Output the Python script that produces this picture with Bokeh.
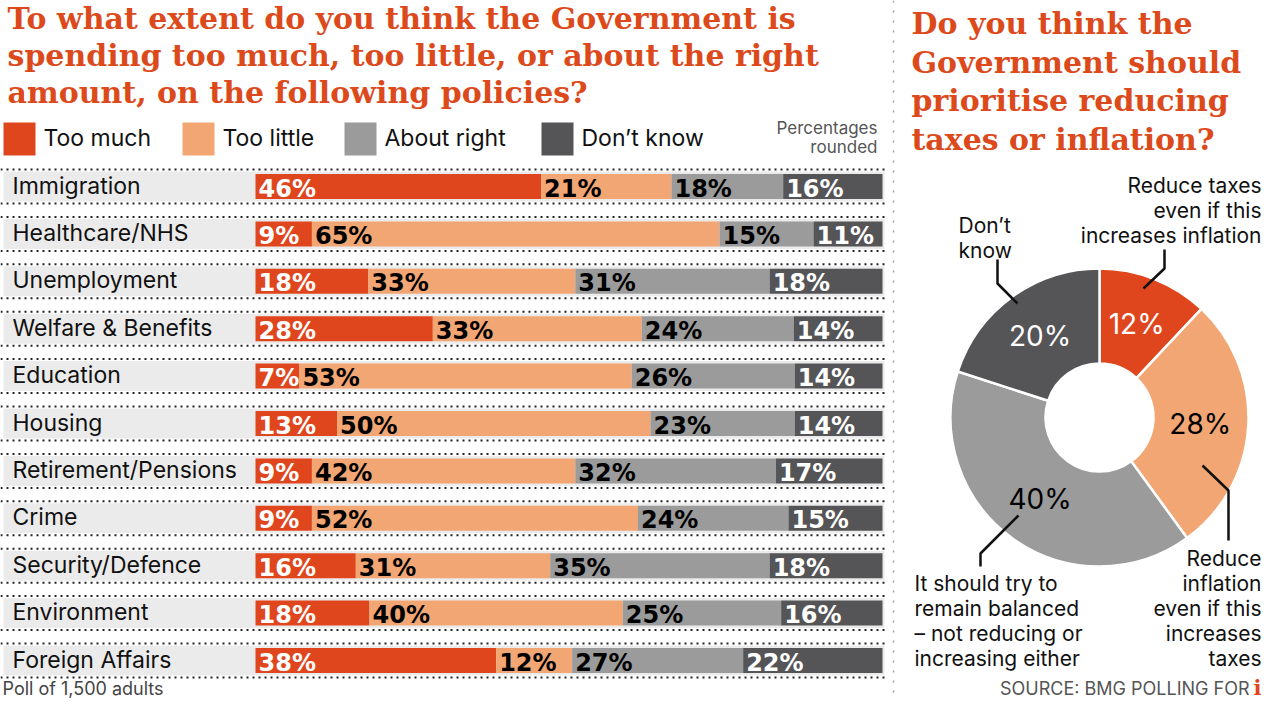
import math
from bokeh.plotting import figure
from bokeh.models import Range1d, ColumnDataSource
from bokeh.core.properties import value
from bokeh.embed import file_html
from bokeh.resources import INLINE

# ---------------- data ----------------
categories = ["Immigration", "Healthcare/NHS", "Unemployment", "Welfare & Benefits",
              "Education", "Housing", "Retirement/Pensions", "Crime",
              "Security/Defence", "Environment", "Foreign Affairs"]
too_much = [46, 9, 18, 28, 7, 13, 9, 9, 16, 18, 38]
too_little = [21, 65, 33, 33, 53, 50, 42, 52, 31, 40, 12]
about_right = [18, 15, 31, 24, 26, 23, 32, 24, 35, 25, 27]
dont_know = [16, 11, 18, 14, 14, 14, 17, 15, 18, 16, 22]
series_names = ["Too much", "Too little", "About right", "Don\u2019t know"]

pie_labels = ["Reduce taxes\neven if this\nincreases inflation",
              "Reduce\ninflation\neven if this\nincreases\ntaxes",
              "It should try to\nremain balanced\n\u2013 not reducing or\nincreasing either",
              "Don\u2019t\nknow"]
pie_values = [12, 28, 40, 20]

title_left = ["To what extent do you think the Government is",
              "spending too much, too little, or about the right",
              "amount, on the following policies?"]
title_right = ["Do you think the", "Government should", "prioritise reducing", "taxes or inflation?"]

# ---------------- styles ----------------
RED = "#e0461e"
LORANGE = "#f2a674"
GRAY = "#9b9b9b"
DARK = "#555456"
TITLE = "#dc4a1c"
series_colors = [RED, LORANGE, GRAY, DARK]
label_colors = ["white", "black", "black", "white"]
pie_colors = [RED, LORANGE, GRAY, DARK]
pie_text_colors = ["white", "black", "black", "white"]

SANS = "Inter"
SERIF = "DejaVu Serif"

W, H = 1264, 701
BAR_X0, BAR_X1 = 255, 882
ROW_Y0, ROW_STEP = 186, 47.4

p = figure(width=W, height=H, x_range=Range1d(0, W), y_range=Range1d(H, 0),
           output_backend="svg", toolbar_location=None, min_border=0)
p.axis.visible = False
p.grid.visible = False
p.outline_line_color = None
p.background_fill_color = "white"
p.border_fill_color = "white"

# percent scale for bars
span = BAR_X1 - BAR_X0
p.extra_x_ranges = {"pct": Range1d(-BAR_X0 / span * 100, (W - BAR_X0) / span * 100)}

# ---------------- titles ----------------
for i, t in enumerate(title_left):
    p.text(x=[7], y=[18 + i * 37], text=[t], text_font=value(SERIF), text_font_style="bold",
           text_font_size="30px", text_color=TITLE, text_baseline="middle")
for i, t in enumerate(title_right):
    p.text(x=[911], y=[23 + i * 38.5], text=[t], text_font=value(SERIF), text_font_style="bold",
           text_font_size="30px", text_color=TITLE, text_baseline="middle")

# ---------------- legend ----------------
leg_x = [3, 182, 344, 541]
p.quad(left=leg_x, right=[x + 32 for x in leg_x], top=[122] * 4, bottom=[155] * 4,
       fill_color=series_colors, line_color=None)
p.text(x=[x + 40 for x in leg_x], y=[137] * 4, text=series_names, text_font=value(SANS),
       text_font_size="23px", text_color="#111111", text_baseline="middle")
p.text(x=[877, 877], y=[127, 146], text=["Percentages", "rounded"], text_font=value(SANS),
       text_font_size="17px", text_color="#555555", text_align="right", text_baseline="middle")

# ---------------- rows ----------------
n = len(categories)
row_y = [ROW_Y0 + i * ROW_STEP for i in range(n)]
p.quad(left=[3] * n, right=[884] * n, top=[y - 15 for y in row_y], bottom=[y + 15 for y in row_y],
       fill_color="#ebebeb", line_color=None)
dot_y = [y - 17 for y in row_y] + [y + 17 for y in row_y]
p.segment(x0=[0] * len(dot_y), x1=[884] * len(dot_y), y0=dot_y, y1=dot_y,
          line_color="#222222", line_width=2, line_dash="2 4")
p.text(x=[12] * n, y=[y - 1 for y in row_y], text=categories, text_font=value(SANS),
       text_font_size="23px", text_color="#111111", text_baseline="middle")

series = [too_much, too_little, about_right, dont_know]
totals = [sum(v) for v in zip(*series)]
cum = [0.0] * n
for s, vals in enumerate(series):
    left = [cum[i] / totals[i] * 100 for i in range(n)]
    right = [(cum[i] + vals[i]) / totals[i] * 100 for i in range(n)]
    src = ColumnDataSource(dict(y=row_y, left=left, right=right,
                                lab=[f"{v}%" for v in vals]))
    p.hbar(y="y", left="left", right="right", height=25, source=src, x_range_name="pct",
           fill_color=series_colors[s], line_color=None)
    p.text(x="left", y="y", text="lab", source=src, x_range_name="pct", x_offset=3, y_offset=2,
           text_font=value("DejaVu Sans"), text_font_style="bold", text_font_size="24px",
           text_color=label_colors[s], text_baseline="middle")
    cum = [cum[i] + vals[i] for i in range(n)]

# vertical divider
p.segment(x0=[893], x1=[893], y0=[0], y1=[700], line_color="#a0a0a0", line_width=1.5,
          line_dash="2 8")

# ---------------- donut ----------------
CX, CY, R_IN, R_OUT = 1099, 417, 54, 149
tot = sum(pie_values)
starts, ends, lx, ly = [], [], [], []
c = 0
for v in pie_values:
    a0 = math.pi / 2 - c / tot * 2 * math.pi
    a1 = math.pi / 2 - (c + v) / tot * 2 * math.pi
    starts.append(a0)
    ends.append(a1)
    mid = (c + v / 2) / tot * 2 * math.pi
    lx.append(CX + 101 * math.sin(mid))
    ly.append(CY - 101 * math.cos(mid))
    c += v
p.annular_wedge(x=[CX] * 4, y=[CY] * 4, inner_radius=R_IN, outer_radius=R_OUT,
                start_angle=starts, end_angle=ends, direction="clock",
                fill_color=pie_colors, line_color="white", line_width=2.5)
p.text(x=lx, y=ly, text=[f"{v}%" for v in pie_values], text_font=value(SANS),
       text_font_size="28px", text_color=pie_text_colors, text_align="center",
       text_baseline="middle")

# annotations
ann_x = [1261, 1261, 914, 958]
ann_y = [185, 558, 583, 225]
ann_align = ["right", "right", "left", "left"]
for lab, x, y, al in zip(pie_labels, ann_x, ann_y, ann_align):
    lines = lab.split("\n")
    p.text(x=[x] * len(lines), y=[y + k * 25 for k in range(len(lines))], text=lines,
           text_font=value(SANS), text_font_size="21px", text_color="#111111",
           text_align=al, text_baseline="middle")
p.multi_line(xs=[[1164, 1164, 1143], [1202, 1228, 1228], [1018, 980, 980], [997, 997, 1017]],
             ys=[[249, 268, 288], [465, 490, 540], [515, 553, 566], [259, 283, 303]],
             line_color="#111111", line_width=2.5)

# ---------------- footer ----------------
p.text(x=[2], y=[688], text=["Poll of 1,500 adults"], text_font=value(SANS),
       text_font_size="18px", text_color="#444444", text_baseline="middle")
p.text(x=[1249], y=[688], text=["SOURCE: BMG POLLING FOR"], text_font=value(SANS),
       text_font_size="18px", text_color="#555555", text_align="right", text_baseline="middle")
p.text(x=[1253], y=[687], text=["i"], text_font=value(SERIF), text_font_style="bold",
       text_font_size="21px", text_color=RED, text_baseline="middle")

open("out.html", "w").write(file_html(p, INLINE))
